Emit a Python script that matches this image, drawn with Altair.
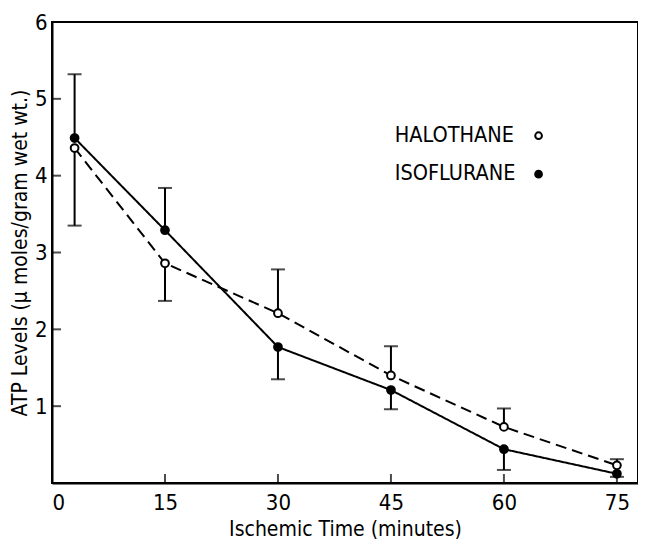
import altair as alt
import pandas as pd

# ---- data ----
times = [3, 15, 30, 45, 60, 75]
halothane = [4.36, 2.86, 2.21, 1.40, 0.73, 0.23]
halothane_err_end = [3.35, 2.37, 2.78, 1.78, 0.97, 0.31]
isoflurane = [4.49, 3.29, 1.77, 1.21, 0.44, 0.12]
isoflurane_err_end = [5.32, 3.84, 1.35, 0.96, 0.17, 0.08]

series_names = ["HALOTHANE", "ISOFLURANE"]
x_tick_values = [0, 15, 30, 45, 60, 75]
y_tick_values = [1, 2, 3, 4, 5, 6]
inner_x_ticks = [15, 30, 45, 60, 75]
inner_y_ticks = [1, 2, 3, 4, 5]

legend_labels = ["HALOTHANE", "ISOFLURANE"]
legend_x = [45.5, 45.5]
legend_sym_x = [64.6, 64.6]
legend_y = [4.52, 4.02]

FONT = "DejaVu Sans Condensed, Liberation Sans, sans-serif"

rows = []
for t, v, e in zip(times, halothane, halothane_err_end):
    rows.append({"series": "HALOTHANE", "time": t, "value": v, "err": e})
for t, v, e in zip(times, isoflurane, isoflurane_err_end):
    rows.append({"series": "ISOFLURANE", "time": t, "value": v, "err": e})
df = pd.DataFrame(rows)

legend_df = pd.DataFrame({"label": legend_labels, "x": legend_x, "sx": legend_sym_x,
                          "y": legend_y, "series": series_names})

W, H = 586, 461
xscale = alt.Scale(domain=[0, 77.8], nice=False, zero=False)
yscale = alt.Scale(domain=[0, 6], nice=False)

x_enc = alt.X("time:Q", scale=xscale,
              axis=alt.Axis(values=x_tick_values, format="d",
                            title="Ischemic Time (minutes)"))
y_enc = alt.Y("value:Q", scale=yscale,
              axis=alt.Axis(values=y_tick_values, format="d",
                            title="ATP Levels (\u03bc moles/gram wet wt.)"))

fill_scale = alt.Scale(domain=series_names, range=["white", "black"])
dash_scale = alt.Scale(domain=series_names, range=[[11, 6], [1, 0]])

base = alt.Chart(df)

lines = base.mark_line(color="black", strokeWidth=2).encode(
    x=x_enc, y=y_enc,
    strokeDash=alt.StrokeDash("series:N", scale=dash_scale, legend=None),
)

err_rules = base.mark_rule(color="black", strokeWidth=2).encode(
    x="time:Q", y="value:Q", y2="err:Q"
)
err_caps = base.mark_tick(color="black", thickness=2, size=14, orient="horizontal").encode(
    x="time:Q", y=alt.Y("err:Q")
)

points = base.mark_point(shape="circle", size=60, stroke="black", strokeWidth=2,
                         opacity=1, filled=False).encode(
    x="time:Q", y="value:Q",
    fill=alt.Fill("series:N", scale=fill_scale, legend=None),
)

ytick_df = pd.DataFrame({"v": inner_y_ticks})
xtick_df = pd.DataFrame({"v": inner_x_ticks})
y_inner = alt.Chart(ytick_df).mark_tick(color="black", thickness=2, size=9,
                                        orient="horizontal").encode(
    y=alt.Y("v:Q"), x=alt.value(4.5)
)
x_inner = alt.Chart(xtick_df).mark_tick(color="black", thickness=2, size=9,
                                        orient="vertical").encode(
    x=alt.X("v:Q"), y=alt.value(H - 4.5)
)

leg_text = alt.Chart(legend_df).mark_text(font=FONT, fontSize=21.5, align="left",
                                          baseline="middle", color="black").encode(
    x=alt.X("x:Q"), y=alt.Y("y:Q"), text="label:N"
)
leg_sym = alt.Chart(legend_df).mark_point(shape="circle", size=45, stroke="black",
                                          strokeWidth=2, opacity=1).encode(
    x=alt.X("sx:Q"), y=alt.Y("y:Q"),
    fill=alt.Fill("series:N", scale=fill_scale, legend=None),
)

chart = alt.layer(
    lines, err_rules, err_caps, points, y_inner, x_inner, leg_text, leg_sym
).properties(
    width=W, height=H,
    autosize=alt.AutoSizeParams(type="none"),
    padding={"left": 44, "top": 14, "right": 0, "bottom": 56},
    background="white",
).configure_view(
    stroke="black", strokeWidth=2
).configure_axis(
    grid=False, ticks=False, domain=True, domainColor="black", domainWidth=2,
    labelFont=FONT, labelFontSize=22, labelColor="black",
    titleFont=FONT, titleFontSize=21, titleColor="black", titleFontWeight="normal",
).configure_axisX(
    labelPadding=9, titlePadding=5,
).configure_axisY(
    labelPadding=5, titlePadding=4,
)

chart.save("out.html", embed_options={"renderer": "svg", "actions": False})
